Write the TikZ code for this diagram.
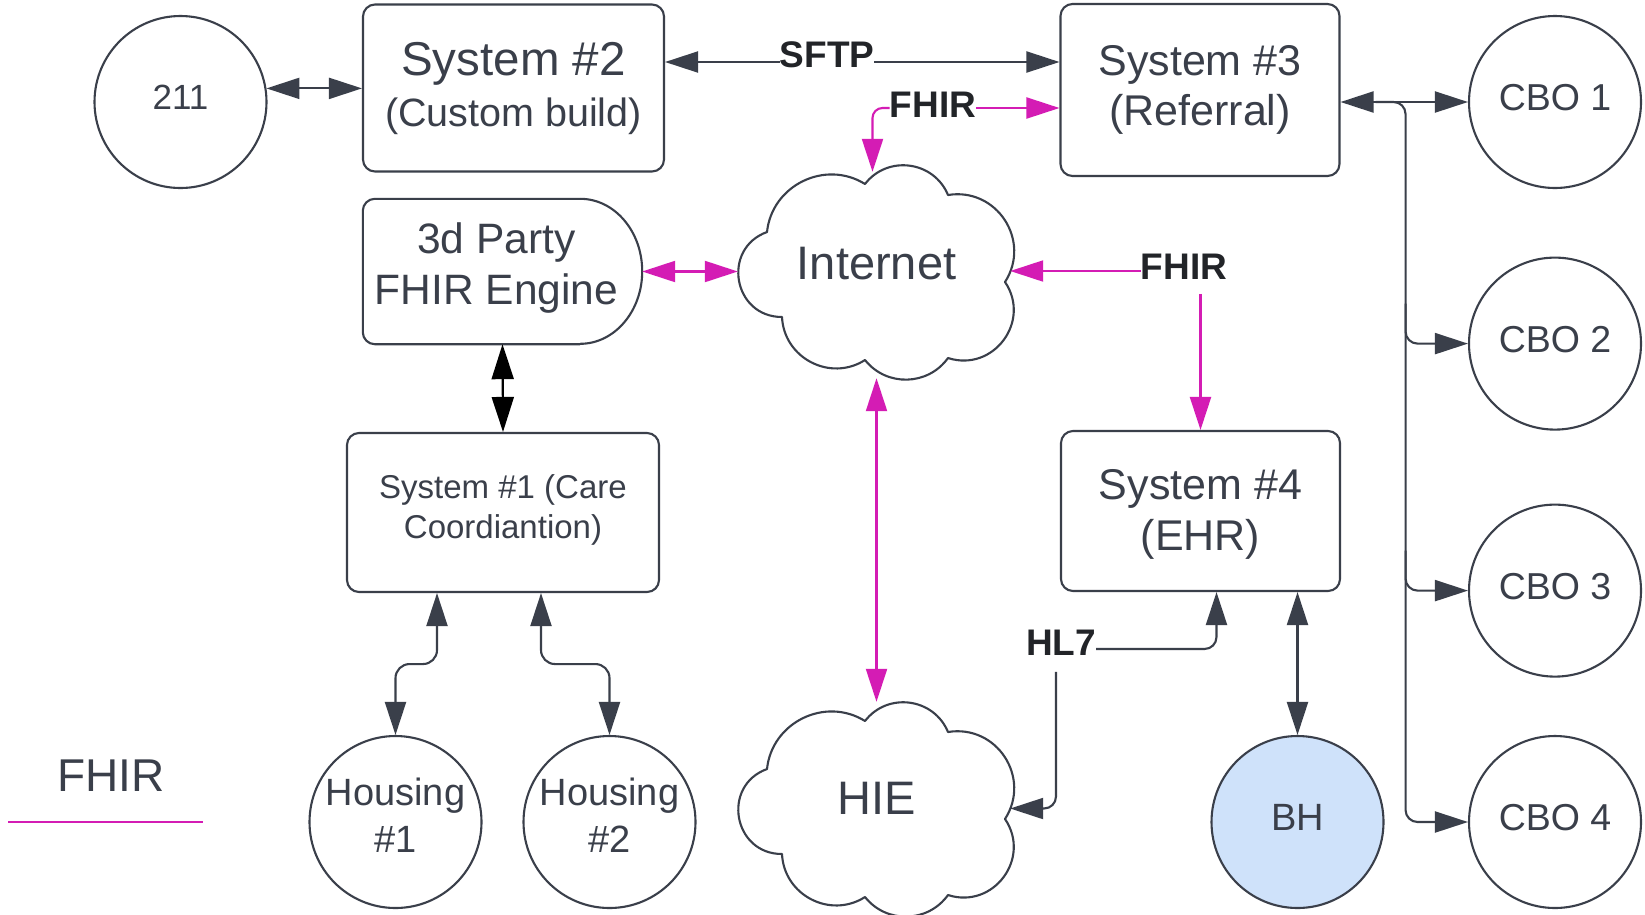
\documentclass[tikz,border=0pt]{standalone}
\usepackage{fontspec}
\setmainfont{Liberation Sans}
\usetikzlibrary{arrows.meta,calc}

\definecolor{ink}{RGB}{58,63,74}
\definecolor{tagink}{RGB}{34,36,40}
\definecolor{fhirpink}{RGB}{212,28,180}
\definecolor{bhblue}{RGB}{207,226,250}

\newcommand\pxsize[2]{\fontsize{#1}{#2}\selectfont}

\begin{document}
\begin{tikzpicture}[x=1pt, y=-1pt,
  outline/.style={draw=ink, line width=2.1pt},
  box/.style={outline, rounded corners=12pt, inner sep=0pt, align=center, text=ink},
  orb/.style={outline, circle, minimum size=172pt, inner sep=0pt, align=center, text=ink,
    text depth=9pt, font=\pxsize{37.5}{47}},
  cloudbox/.style={inner sep=0pt, minimum width=277pt, minimum height=213pt},
  cloudtext/.style={inner sep=0pt, text=ink, font=\pxsize{47}{50}},
  tag/.style={inner sep=0pt, text=tagink, font=\bfseries\pxsize{37}{44}},
  conn/.style={draw=ink, line width=2.1pt},
  pink/.style={draw=fhirpink, line width=2.1pt},
  hd/.tip={Triangle[length=33pt,width=21pt]},
  bk/.tip={Triangle[length=35pt,width=22pt]},
  puffs/.style={outline, fill=white, line join=round}
]
\fill[white] (0,0) rectangle (1645,914);
\useasboundingbox (0,0) rectangle (1645,914);

% ---------- systems ----------
\node[box, minimum width=301pt, minimum height=167pt, font=\pxsize{39.5}{51}] (sys2) at (513.5,88)
  {{\pxsize{47.5}{51}System \#2}\\(Custom build)};
\node[box, minimum width=279pt, minimum height=172pt, font=\pxsize{43}{50}] (sys3) at (1200,90)
  {System \#3\\(Referral)};
\node[box, minimum width=312pt, minimum height=159pt, text depth=11pt, font=\pxsize{33}{40}] (sys1) at (503,512.5)
  {System \#1 (Care\\Coordiantion)};
\node[box, minimum width=279pt, minimum height=160pt, text depth=3pt, font=\pxsize{43}{51}] (sys4) at (1200.5,511)
  {System \#4\\(EHR)};

% FHIR engine: flat left side, rounded right end
\node[inner sep=0pt, minimum width=279pt, minimum height=145pt, align=center, text=ink,
  text depth=15pt, font=\pxsize{42.5}{51}] (party) at (502.5,271.5)
  {3d Party\kern12pt\\FHIR Engine\kern12pt};
\draw[outline, rounded corners=12pt] ($(party.north east)+(-62,0)$) -- (party.north west)
  -- (party.south west) -- ($(party.south east)+(-62,0)$);
\draw[outline] ($(party.north east)+(-62,0)$)
  arc[start angle=90, end angle=-90, x radius=62pt, y radius=72.5pt];

% ---------- round nodes ----------
\node[orb, font=\pxsize{35}{40}] (n211) at (180.5,102) {211};
\node[orb] (cbo1) at (1555,102) {CBO 1};
\node[orb] (cbo2) at (1555,343.6) {CBO 2};
\node[orb] (cbo3) at (1555,590.6) {CBO 3};
\node[orb] (cbo4) at (1555,822) {CBO 4};
\node[orb, text depth=14pt, font=\pxsize{38}{47}] (h1) at (395.5,822) {Housing\\\#1};
\node[orb, text depth=14pt, font=\pxsize{38}{47}] (h2) at (609.5,822) {Housing\\\#2};
\node[orb, fill=bhblue, text depth=10pt, font=\pxsize{38}{47}] (bh) at (1297.5,822) {BH};

% ---------- clouds ----------
\node[cloudbox] (internet) at (876.5,271.5) {};
\node[cloudbox] (hie) at (876.5,808.5) {};
\foreach \c in {internet,hie}{
  \draw[puffs, shift={(\c.center)}]
    (-11.5,-87.5) to[bend left=60, looseness=1.13] (71.5,-76.5)
    to[bend left=66, looseness=1.21] (128.5,10.5)
    to[bend left=71, looseness=1.28] (71.5,86.5)
    to[bend left=53, looseness=1.06] (-11.5,88.5)
    to[bend left=60, looseness=1.13] (-94.5,45.5)
    to[bend left=80, looseness=1.45] (-109.5,-39.5)
    to[bend left=58, looseness=1.1] (-11.5,-87.5) -- cycle;
}
\node[cloudtext] (internetTxt) at ($(internet.center)+(0,-8)$) {Internet};
\node[cloudtext] (hieTxt) at ($(hie.center)+(0,-10)$) {HIE};

% ---------- labels ----------
\node[tag] (sftp) at (827,55) {SFTP};
\node[tag] (fhirA) at (933,105) {FHIR};
\node[tag] (fhirB) at (1184,267) {FHIR};
\node[tag] (hl7) at (1061,643) {HL7};

% ---------- connectors ----------
\draw[conn, hd-hd] (n211.9) -- (sys2.west |- n211.9);

\coordinate (sftpA) at ($(sftp.west)+(0,7)$);
\coordinate (sftpB) at ($(sftp.east)+(0,7)$);
\draw[conn, -hd] (sftpA) -- (sftpA -| sys2.east);
\draw[conn, -hd] (sftpB) -- (sftpB -| sys3.west);

\coordinate (fA1) at ($(fhirA.east)+(0,3)$);
\coordinate (fA2) at ($(fhirA.west)+(0,3)$);
\draw[pink, -hd] (fA1) -- (fA1 -| sys3.west);
\draw[pink, -hd, rounded corners=10pt] (fA2) -| ([shift={(-4pt,-7pt)}]internet.north);

\draw[pink, hd-hd] (party.east) -- (internet.west |- party.east);

\coordinate (fB1) at ($(fhirB.west)+(0,4)$);
\draw[pink, -hd] (fB1) -- ($(fB1 -| internet.east)+(-5,0)$);
\draw[pink, -hd] ($(fhirB.south -| sys4.north)+(0,14)$) -- (sys4.north);

\draw[pink, hd-hd] (internet.south) -- (hie.north);

\draw[draw=black, line width=2.1pt, bk-bk] (party.south) -- (sys1.north);

\draw[conn, hd-hd, rounded corners=14pt] ([xshift=-66pt]sys1.south) -- ++(0,71) -| (h1.north);
\draw[conn, hd-hd, rounded corners=14pt] ([xshift=38pt]sys1.south) -- ++(0,71) -| (h2.north);

\draw[conn, -hd, rounded corners=12pt] ($(hl7.east)+(0,6)$) -| ([xshift=16pt]sys4.south);
\draw[conn, -hd, rounded corners=12pt] ($(hl7.south)+(-5,16)$) |- ($(hie.east)+(-5,0)$);

\draw[conn, hd-hd] (bh.north) -- (bh.north |- sys4.south);

\draw[conn, hd-hd] (sys3.east |- cbo1.west) -- (cbo1.west);
\coordinate (trunk) at ($(sys3.east |- cbo1.west)+(65,0)$);
\draw[conn, -hd, rounded corners=12pt] ($(trunk)+(-30,0)$) -- (trunk) |- (cbo4.west);
\draw[conn, -hd, rounded corners=12pt] ($(trunk |- cbo2.west)+(0,-40)$) |- (cbo2.west);
\draw[conn, -hd, rounded corners=12pt] ($(trunk |- cbo3.west)+(0,-40)$) |- (cbo3.west);

% ---------- legend ----------
\node[inner sep=0pt, text=ink, font=\pxsize{46}{50}] (legendTxt) at (111,776) {FHIR};
\draw[draw=fhirpink, line width=2.1pt] ($(legendTxt.south)+(-103,30)$) -- ++(194.5,0);
\end{tikzpicture}
\end{document}
